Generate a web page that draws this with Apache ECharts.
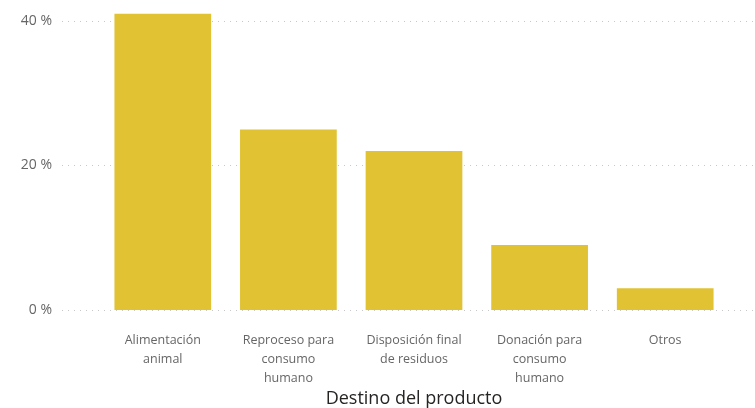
<!DOCTYPE html>
<html><head><meta charset="utf-8">
<script src="https://cdn.jsdelivr.net/npm/echarts@6/dist/echarts.min.js"></script>
<style>html,body{margin:0;padding:0;background:#fff}#c{width:755px;height:408px}</style>
</head><body><div id="c"></div>
<script>
const categories = ["Alimentación\nanimal", "Reproceso para\nconsumo\nhumano", "Disposición final\nde residuos", "Donación para\nconsumo\nhumano", "Otros"];
const values = [41, 25, 22, 9, 3];
const yTicks = [0, 20, 40];
const axisTitle = "Destino del producto";

const chart = echarts.init(document.getElementById('c'));
const font = "'Open Sans', 'Noto Sans', sans-serif";
chart.setOption({
  animation: false,
  grid: [
    {left: 62, right: 0, top: 21, bottom: 98, outerBoundsMode: 'none', containLabel: false},
    {left: 100, right: 27, top: 21, bottom: 98, outerBoundsMode: 'none', containLabel: false}
  ],
  xAxis: [
    {gridIndex: 0, type: 'value', show: false, min: 0, max: 1},
    {gridIndex: 1, type: 'category', data: categories,
      axisLine: {show: false}, axisTick: {show: false},
      axisLabel: {interval: 0, margin: 21, color: '#666666', fontSize: 12.5, lineHeight: 19, fontFamily: font, align: 'center'},
      name: axisTitle, nameLocation: 'middle', nameGap: 79, nameMoveOverlap: false,
      nameTextStyle: {color: '#252423', fontSize: 18, lineHeight: 20, fontFamily: font}
    }
  ],
  yAxis: [
    {gridIndex: 0, type: 'value', min: yTicks[0], max: yTicks[yTicks.length-1], interval: 20,
      axisLine: {show: false}, axisTick: {show: false},
      axisLabel: {margin: 10, color: '#666666', fontSize: 14, fontFamily: font, formatter: v => v + ' %'},
      splitLine: {show: true, lineStyle: {color: '#C8C8C8', type: [1, 5], width: 1}}
    },
    {gridIndex: 1, type: 'value', min: 0, max: 40, interval: 20, show: false, splitLine: {show: false}}
  ],
  series: [{
    type: 'bar', xAxisIndex: 1, yAxisIndex: 1, data: values, clip: false,
    barCategoryGap: '23%',
    itemStyle: {color: '#E1C233'}
  }]
});
</script></body></html>
